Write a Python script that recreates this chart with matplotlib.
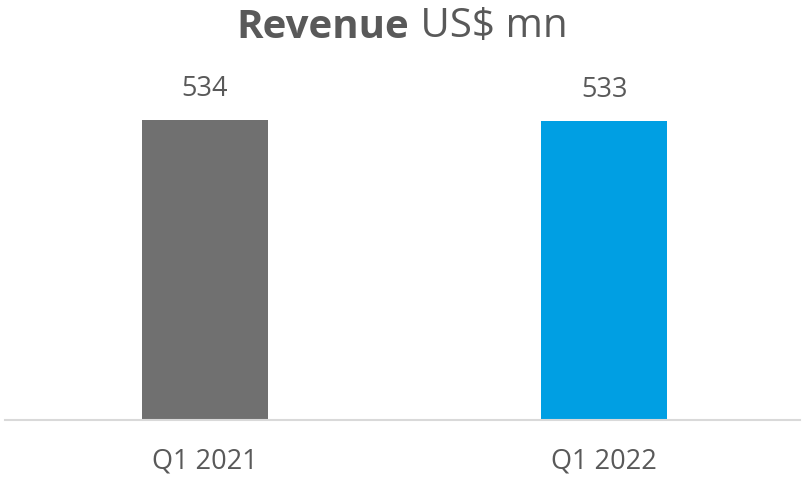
import matplotlib
matplotlib.use('Agg')
import matplotlib.pyplot as plt

categories = ['Q1 2021', 'Q1 2022']
revenue = [534, 533]
colors = ['#707070', '#009FE3']

plt.rcParams['font.family'] = ['Open Sans', 'DejaVu Sans']
txt = '#595959'

fig = plt.figure(figsize=(8.03, 4.79), dpi=100)
ax = fig.add_axes([5 / 803, 1 - 420 / 479, 795 / 803, 360 / 479])

x = range(len(categories))
bars = ax.bar(x, revenue, width=0.316, color=colors)
for b, v in zip(bars, revenue):
    ax.annotate(str(v), (b.get_x() + b.get_width() / 2, v), xytext=(0, 12),
                textcoords='offset points', ha='center', va='bottom',
                fontsize=19.5, color=txt)

ax.set_xlim(-0.5, 1.49)
ax.set_ylim(0, 534 * 360 / 300)
ax.set_xticks(list(x))
ax.set_xticklabels(categories, fontsize=19.5, color=txt)
ax.tick_params(axis='x', length=0, pad=20)
ax.set_yticks([])
for s in ['top', 'right', 'left']:
    ax.spines[s].set_visible(False)
ax.spines['bottom'].set_color('#D9D9D9')
ax.spines['bottom'].set_linewidth(1.5)

# title: bold "Revenue" + regular " US$ mn", centred together
t1 = fig.text(0.5, 1 - 27 / 479, 'Revenue', fontsize=29, fontweight='bold',
              color=txt, ha='right', va='center')
t2 = fig.text(0.5, 1 - 27 / 479, ' US$ mn', fontsize=29, color=txt,
              ha='left', va='center')
fig.canvas.draw()
r = fig.canvas.get_renderer()
w1 = t1.get_window_extent(r).width
w2 = t2.get_window_extent(r).width
cx = 402 + (w1 - w2) / 2
t1.set_x(cx / 803)
t2.set_x(cx / 803)

fig.savefig('out.png', dpi=100)
